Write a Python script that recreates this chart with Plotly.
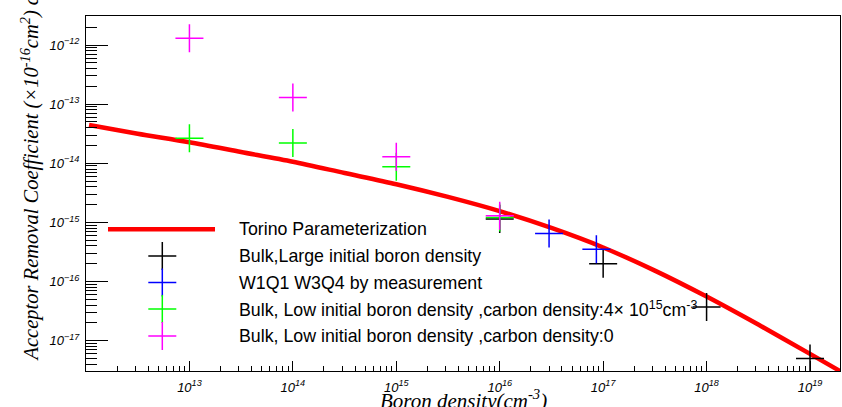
import plotly.graph_objects as go

# ---- data ----
torino_x = [1.07e12, 3.16e12, 1e13, 3.16e13, 1e14, 3.16e14, 1e15, 3.16e15, 1e16, 3.16e16,
            1e17, 3.16e17, 1e18, 3.16e18, 1e19, 2.0e19]
torino_y = [4.43e-14, 3.16e-14, 2.27e-14, 1.55e-14, 1.06e-14, 6.85e-15, 4.43e-15, 2.70e-15,
            1.55e-15, 8.05e-16, 3.77e-16, 1.53e-16, 5.57e-17, 1.87e-17, 5.97e-18, 2.99e-18]

large_x = [1e16, 1e17, 1e18, 1e19]
large_y = [1.14e-15, 2.0e-16, 3.7e-17, 5.0e-18]

meas_x = [3.0e16, 8.6e16]
meas_y = [6.5e-16, 3.5e-16]

lowc_x = [1e13, 1e14, 1e15, 1e16]
lowc_y = [2.64e-14, 2.2e-14, 8.7e-15, 1.21e-15]

low0_x = [1e13, 1e14, 1e15, 1e16]
low0_y = [1.3e-12, 1.29e-13, 1.29e-14, 1.3e-15]

x_tick_vals = [1e13, 1e14, 1e15, 1e16, 1e17, 1e18, 1e19]
x_tick_text = ["<i>10<sup>13</sup></i>", "<i>10<sup>14</sup></i>", "<i>10<sup>15</sup></i>",
               "<i>10<sup>16</sup></i>", "<i>10<sup>17</sup></i>", "<i>10<sup>18</sup></i>",
               "<i>10<sup>19</sup></i>"]
y_tick_vals = [1e-17, 1e-16, 1e-15, 1e-14, 1e-13, 1e-12]
y_tick_text = ["<i>10<sup>\u221217</sup></i>", "<i>10<sup>\u221216</sup></i>",
               "<i>10<sup>\u221215</sup></i>", "<i>10<sup>\u221214</sup></i>",
               "<i>10<sup>\u221213</sup></i>", "<i>10<sup>\u221212</sup></i>"]

legend_labels = [
    "Torino Parameterization",
    "Bulk,Large initial boron density",
    "W1Q1 W3Q4 by measurement",
    "Bulk, Low initial boron density ,carbon density:4\u00d7 10<sup>15</sup>cm<sup>-3</sup>",
    "Bulk, Low initial boron density ,carbon density:0",
]
colors = ["#ff0000", "#000000", "#0000ff", "#00ff00", "#ff00ff"]

x_title = "Boron density(cm<sup>-3</sup>)"
y_title = "Acceptor Removal Coefficient (\u00d710<sup>-16</sup>cm<sup>2</sup>) c"

# ---- figure ----
W, H = 842, 407
L, R, T, B = 86, 2, 16, 36
PW, PH = W - L - R, H - T - B


def px2paper(px, py):
    return (px - L) / PW, (H - B - py) / PH


fig = go.Figure()
fig.add_trace(go.Scatter(x=torino_x, y=torino_y, mode="lines",
                         line=dict(color=colors[0], width=4.5, shape="spline", smoothing=0.8),
                         showlegend=False, hoverinfo="skip"))

series = [(large_x, large_y, colors[1]), (meas_x, meas_y, colors[2]),
          (lowc_x, lowc_y, colors[3]), (low0_x, low0_y, colors[4])]
for sx, sy, c in series:
    fig.add_trace(go.Scatter(x=sx, y=sy, mode="markers",
                             marker=dict(symbol="cross-thin", size=20, color=c,
                                         line=dict(width=1.5, color=c)),
                             showlegend=False))

# minor tick positions
x_minor = [k * 10.0 ** n for n in range(12, 20) for k in range(2, 10)]
y_minor = [k * 10.0 ** n for n in range(-18, -11) for k in range(2, 10)]

fig.update_xaxes(type="log", range=[12.0, 19.29], showgrid=False, zeroline=False,
                 showline=True, mirror=True, linecolor="black", linewidth=1,
                 ticks="inside", ticklen=10, tickwidth=1, tickcolor="black",
                 tickvals=x_tick_vals, ticktext=x_tick_text, ticklabelstandoff=4,
                 tickfont=dict(family="Liberation Sans", size=13, color="black"),
                 minor=dict(ticks="inside", ticklen=5, tickwidth=1, tickcolor="black",
                            tickvals=x_minor, showgrid=False))
fig.update_yaxes(type="log", range=[-17.513, -11.509], showgrid=False, zeroline=False,
                 showline=True, mirror=True, linecolor="black", linewidth=1,
                 ticks="inside", ticklen=22, tickwidth=1, tickcolor="black",
                 tickvals=y_tick_vals, ticktext=y_tick_text, ticklabelstandoff=3,
                 tickfont=dict(family="Liberation Sans", size=13, color="black"),
                 minor=dict(ticks="inside", ticklen=11, tickwidth=1, tickcolor="black",
                            tickvals=y_minor, showgrid=False))

shapes = []
annotations = []
# legend (drawn by hand to match ROOT TLegend)
leg_y = [229.3, 256, 282.5, 309, 336]
x0, y0 = px2paper(108, leg_y[0])
x1, _ = px2paper(215, leg_y[0])
shapes.append(dict(type="line", xref="paper", yref="paper", x0=x0, x1=x1, y0=y0, y1=y0,
                   line=dict(color=colors[0], width=4.5)))
for i in range(1, 5):
    cx, cy = 162.3, leg_y[i]
    a0, b0 = px2paper(cx - 14, cy)
    a1, _ = px2paper(cx + 14, cy)
    shapes.append(dict(type="line", xref="paper", yref="paper", x0=a0, x1=a1, y0=b0, y1=b0,
                       line=dict(color=colors[i], width=1.5)))
    c0, d0 = px2paper(cx, cy - 14)
    _, d1 = px2paper(cx, cy + 14)
    shapes.append(dict(type="line", xref="paper", yref="paper", x0=c0, x1=c0, y0=d0, y1=d1,
                       line=dict(color=colors[i], width=1.5)))
for i, lab in enumerate(legend_labels):
    tx, ty = px2paper(237, leg_y[i])
    annotations.append(dict(text=lab, xref="paper", yref="paper", x=tx, y=ty,
                            xanchor="left", yanchor="middle", showarrow=False,
                            font=dict(family="Liberation Sans", size=17.8, color="black")))

# axis titles
tx, ty = px2paper(463, 400)
annotations.append(dict(text=x_title, xref="paper", yref="paper", x=0.5, y=ty,
                        xanchor="center", yanchor="middle", showarrow=False,
                        font=dict(family="Liberation Serif", size=21, color="black", style="italic")))
tx, ty = px2paper(30, 364)
annotations.append(dict(text=y_title, xref="paper", yref="paper", x=tx, y=ty, textangle=-90,
                        xanchor="center", yanchor="bottom", showarrow=False,
                        font=dict(family="Liberation Serif", size=20.5, color="black", style="italic")))

fig.update_layout(width=W, height=H, margin=dict(l=L, r=R, t=T, b=B),
                  paper_bgcolor="white", plot_bgcolor="white",
                  shapes=shapes, annotations=annotations, showlegend=False)

fig.write_html("out.html", config={"displayModeBar": False},
               post_script="document.body.style.margin='0px';")
